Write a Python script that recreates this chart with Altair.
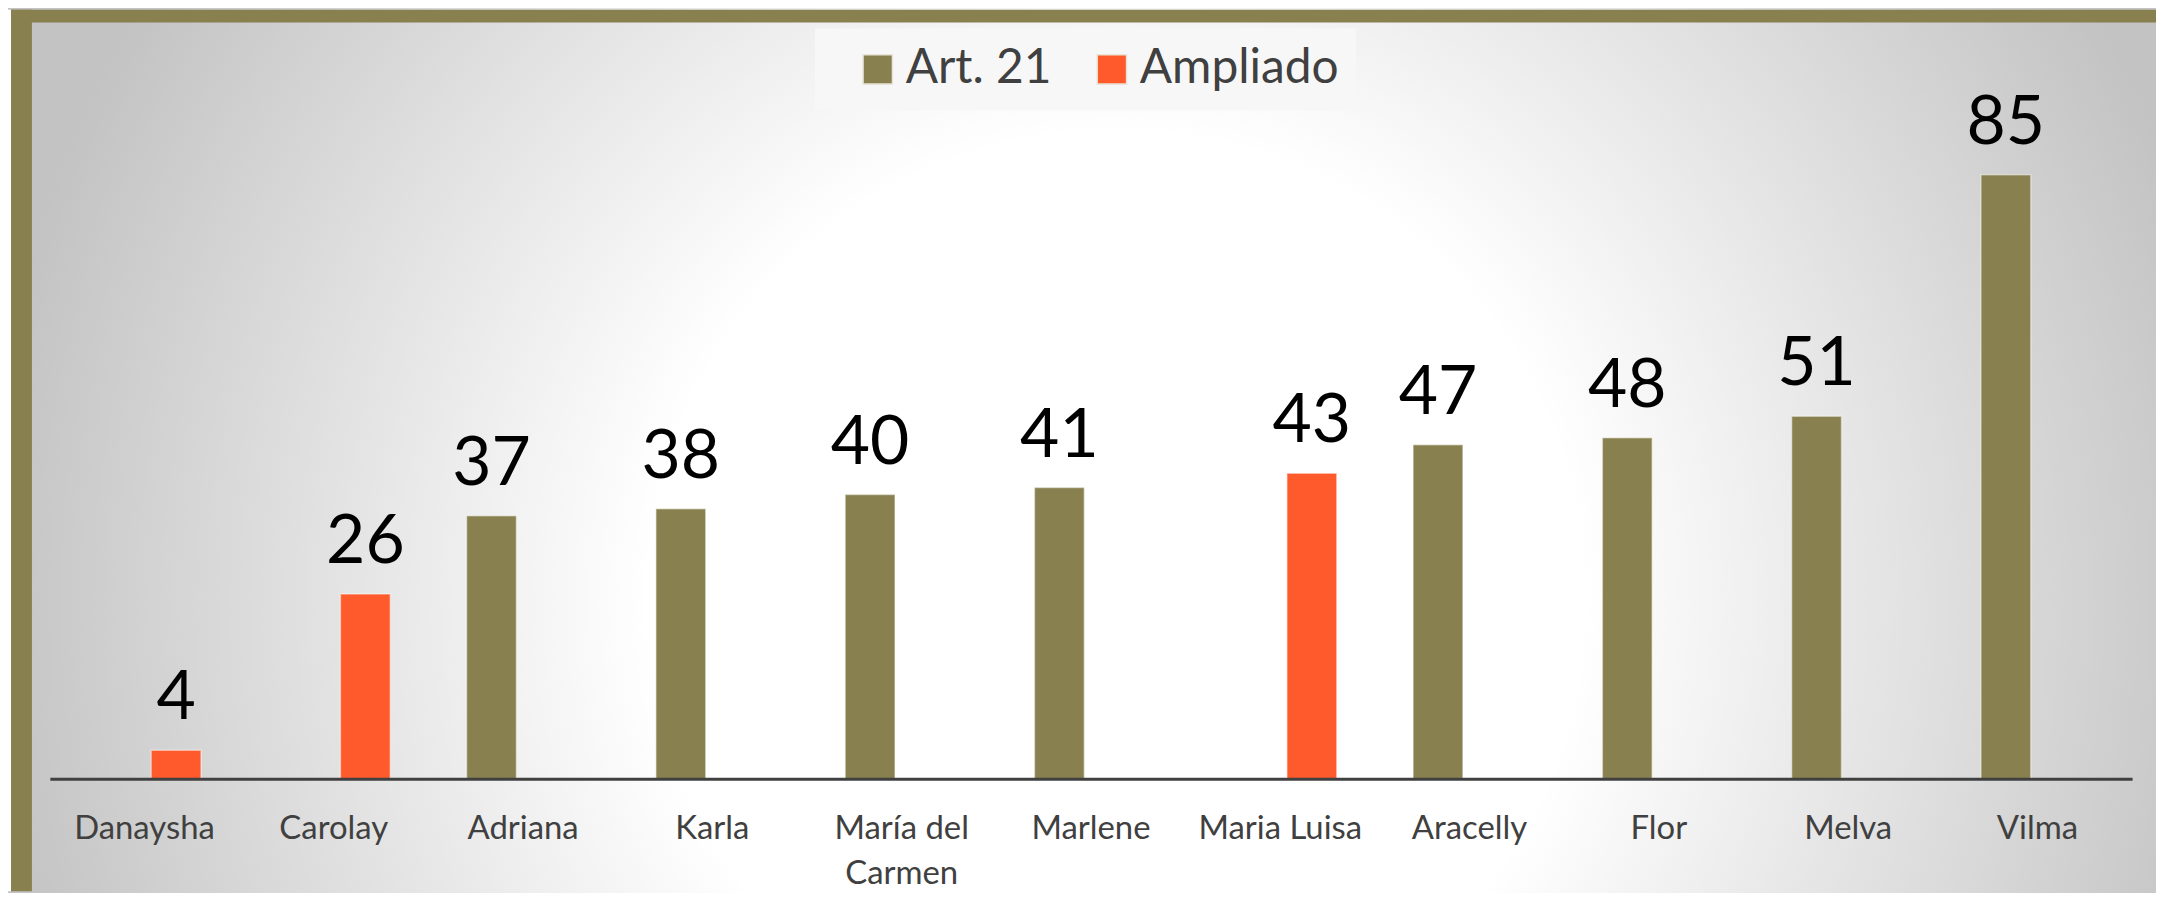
import altair as alt
import pandas as pd

# ---- data ----
names = ["Danaysha", "Carolay", "Adriana", "Karla", "María del Carmen", "Marlene",
         "Maria Luisa", "Aracelly", "Flor", "Melva", "Vilma"]
art21 = [None, None, 37, 38, 40, 41, None, 47, 48, 51, 85]
ampliado = [4, 26, None, None, None, None, 43, None, None, None, None]
series = ["Art. 21", "Ampliado"]
colors = ["#88804E", "#FF5A2C"]

rows = []
for n, a, b in zip(names, art21, ampliado):
    if a is not None:
        rows.append({"nombre": n, "serie": "Art. 21", "valor": a})
    if b is not None:
        rows.append({"nombre": n, "serie": "Ampliado", "valor": b})
df = pd.DataFrame(rows)

W, H = 2090, 642
PAD = {"left": 42, "top": 130, "right": 24, "bottom": 113}
FONT = "Lato"

one = alt.Data(values=[{}])

# background radial gradient (decoration), square so the gradient stays circular
CX, CY, R = 1070, 462, 1300
bg = alt.Chart(one).mark_rect(
    fill={
        "gradient": "radial",
        "x1": 0.5, "y1": 0.5, "r1": 0,
        "x2": 0.5, "y2": 0.5, "r2": 0.5,
        "stops": [
            {"offset": 0, "color": "#ffffff"},
            {"offset": 0.36, "color": "#ffffff"},
            {"offset": 0.88, "color": "#c3c3c3"},
            {"offset": 1, "color": "#c3c3c3"},
        ],
    },
    strokeWidth=0,
).encode(x=alt.value(CX - R), x2=alt.value(CX + R), y=alt.value(CY - R), y2=alt.value(CY + R))

# olive frame (top and left)
top_band = alt.Chart(one).mark_rect(fill="#88804E", strokeWidth=0).encode(
    x=alt.value(-39), x2=alt.value(W + PAD["right"]), y=alt.value(-130), y2=alt.value(-117))
left_band = alt.Chart(one).mark_rect(fill="#88804E", strokeWidth=0).encode(
    x=alt.value(-39), x2=alt.value(-18), y=alt.value(-130), y2=alt.value(H + PAD["bottom"]))
white_strip = alt.Chart(one).mark_rect(fill="#ffffff", strokeWidth=0).encode(
    x=alt.value(-42), x2=alt.value(-39), y=alt.value(-130), y2=alt.value(H + PAD["bottom"]))

x_enc = alt.X(
    "nombre:N", sort=names, title=None,
    scale=alt.Scale(paddingInner=0.403, paddingOuter=0.2015),
    axis=alt.Axis(
        labelFont=FONT, labelFontSize=33, labelColor="#404040", labelAngle=0,
        labelPadding=34, ticks=False, tickSize=0, labelLimit=400, labelOverlap=False,
        labelLineHeight=45, labelBaseline="top",
        labelExpr="datum.value == 'María del Carmen' ? ['María del', 'Carmen'] : datum.value",
        domainColor="#404040", domainWidth=3, grid=False, zindex=1,
    ),
)
xoff = alt.XOffset("serie:N", sort=series,
                   scale=alt.Scale(domain=series, paddingInner=0.211, paddingOuter=0))
y_enc = alt.Y("valor:Q", scale=alt.Scale(domain=[0, 90], nice=False), axis=None)

bars = alt.Chart(df).mark_bar(stroke="#ffffff", strokeOpacity=0.45, strokeWidth=1.5).encode(
    x=x_enc, xOffset=xoff, y=y_enc,
    color=alt.Color(
        "serie:N", sort=series,
        scale=alt.Scale(domain=series, range=colors),
        legend=alt.Legend(
            title=None, orient="none", legendX=768, legendY=-111, direction="horizontal",
            fillColor="#f7f7f7", padding=17, symbolType="square", symbolSize=870,
            symbolStrokeWidth=1.5, symbolStrokeColor="#e8e4d8", symbolOffset=22,
            labelFont=FONT, labelFontSize=48, labelColor="#404040", labelOffset=4,
            columnPadding=14, labelLimit=400, zindex=1,
        ),
    ),
)

labels = alt.Chart(df).mark_text(
    baseline="alphabetic", align="center", dy=-31, font=FONT, fontSize=68, color="#000000"
).encode(x=x_enc, xOffset=xoff, y=y_enc, text=alt.Text("valor:Q"))

chart = alt.layer(bg, top_band, left_band, white_strip, bars, labels).properties(
    width=W, height=H,
    autosize=alt.AutoSizeParams(type="none"),
    padding=PAD,
).configure_view(stroke=None).configure(background="#ffffff")

chart.save("out.html", embed_options={"renderer": "svg", "actions": False})
